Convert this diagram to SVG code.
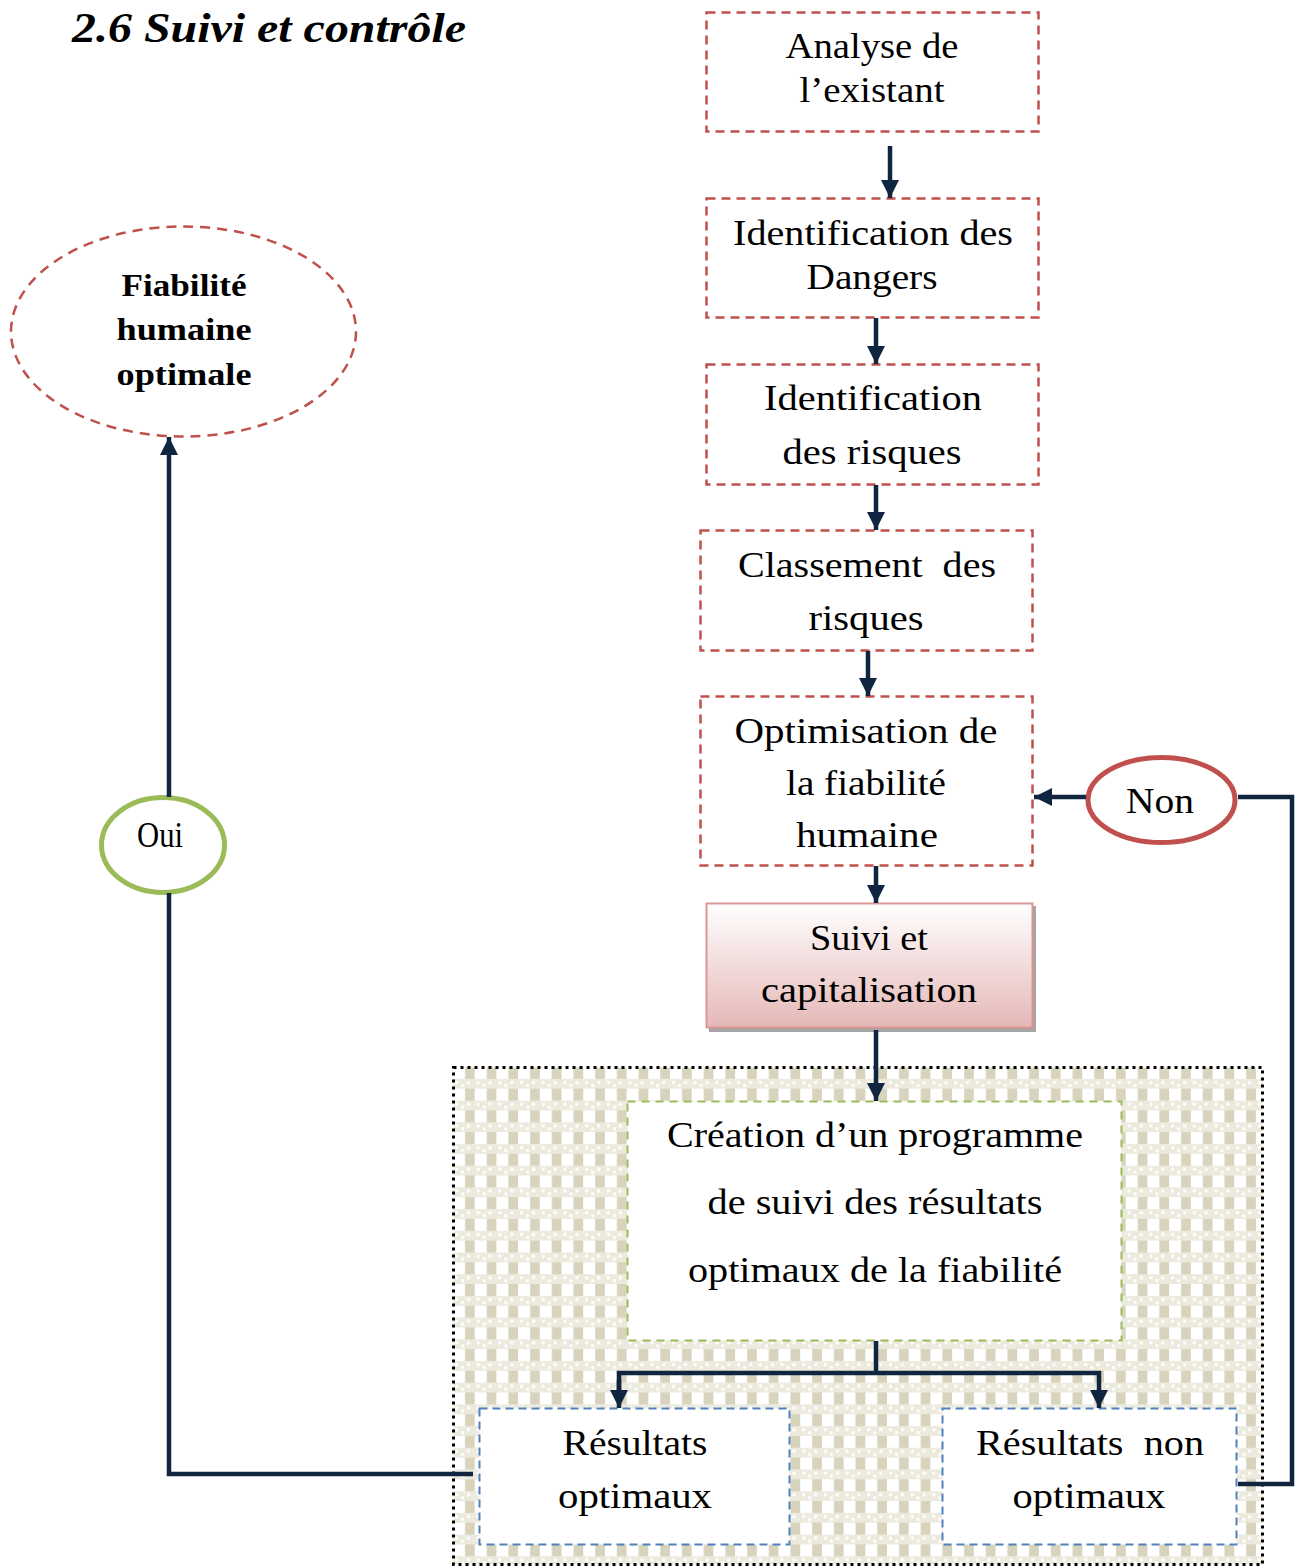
<svg xmlns="http://www.w3.org/2000/svg" width="1295" height="1567" viewBox="0 0 1295 1567">
<style>
  .box { fill: #ffffff; stroke: #C0504D; stroke-width: 2.5; stroke-dasharray: 9 6; }
  .t { font-family: "Liberation Serif", "Times New Roman", serif; font-size: 36px; fill: #000; text-anchor: middle; white-space: pre; }
  .tb { font-family: "Liberation Serif", "Times New Roman", serif; font-size: 31px; font-weight: bold; fill: #000; text-anchor: middle; }
  .conn { fill: none; stroke: #10253F; stroke-width: 4.5; }
</style>
<defs>
  <marker id="ah" viewBox="0 0 18 18" refX="18" refY="9" markerWidth="18" markerHeight="18" markerUnits="userSpaceOnUse" orient="auto">
    <path d="M0,0 L18,9 L0,18 Z" fill="#10253F"/>
  </marker>
  <pattern id="weave" patternUnits="userSpaceOnUse" x="453" y="1067" width="21.7" height="21.7">
    <rect width="21.7" height="21.7" fill="#ffffff"/>
    <rect x="12" y="0" width="10" height="12" fill="#D8D3BC"/>
    <rect x="0" y="12" width="21.7" height="9.7" fill="#ECE9DD"/>
    <rect x="2" y="14" width="3" height="3" fill="#ffffff"/>
    <rect x="8" y="17" width="3" height="3" fill="#ffffff"/>
    <rect x="14" y="14" width="3" height="3" fill="#ffffff"/>
  </pattern>
  <linearGradient id="pink" x1="0" y1="0" x2="0" y2="1">
    <stop offset="0" stop-color="#ffffff"/>
    <stop offset="1" stop-color="#E5B8B7"/>
  </linearGradient>
</defs>

<rect width="1295" height="1567" fill="#ffffff"/>

<text x="72" y="42" font-family="Liberation Serif, Times New Roman, serif" font-size="42" font-weight="bold" font-style="italic" textLength="394" lengthAdjust="spacingAndGlyphs">2.6 Suivi et contrôle</text>

<g id="container">
  <rect x="453.5" y="1067.5" width="809" height="497" fill="url(#weave)" stroke="#000" stroke-width="3" stroke-dasharray="3 4"/>
</g>

<g id="n-analyse">
  <rect class="box" x="706.5" y="12.5" width="332" height="119"/>
  <text class="t" x="872" y="58" textLength="173" lengthAdjust="spacingAndGlyphs">Analyse de</text>
  <text class="t" x="872" y="102" textLength="145" lengthAdjust="spacingAndGlyphs">l’existant</text>
</g>
<g id="n-dangers">
  <rect class="box" x="706.5" y="198.5" width="332" height="119"/>
  <text class="t" x="873" y="245" textLength="280" lengthAdjust="spacingAndGlyphs">Identification des</text>
  <text class="t" x="872" y="289" textLength="131" lengthAdjust="spacingAndGlyphs">Dangers</text>
</g>
<g id="n-risques">
  <rect class="box" x="706.5" y="364.5" width="332" height="120"/>
  <text class="t" x="873" y="410" textLength="218" lengthAdjust="spacingAndGlyphs">Identification</text>
  <text class="t" x="872" y="464" textLength="179" lengthAdjust="spacingAndGlyphs">des risques</text>
</g>
<g id="n-classement">
  <rect class="box" x="700.5" y="530.5" width="332" height="120"/>
  <text class="t" x="867" y="577" textLength="258" lengthAdjust="spacingAndGlyphs">Classement  des</text>
  <text class="t" x="866" y="630" textLength="115" lengthAdjust="spacingAndGlyphs">risques</text>
</g>
<g id="n-optimisation">
  <rect class="box" x="700.5" y="696.5" width="332" height="169"/>
  <text class="t" x="866" y="743" textLength="263" lengthAdjust="spacingAndGlyphs">Optimisation de</text>
  <text class="t" x="866" y="795" textLength="160" lengthAdjust="spacingAndGlyphs">la fiabilité</text>
  <text class="t" x="867" y="847" textLength="142" lengthAdjust="spacingAndGlyphs">humaine</text>
</g>
<g id="n-suivi">
  <rect x="709" y="906" width="327" height="126" fill="#7F7F7F" opacity="0.7"/>
  <rect x="706.5" y="903.5" width="326" height="124" fill="url(#pink)" stroke="#D99694" stroke-width="2"/>
  <text class="t" x="869" y="950" textLength="118" lengthAdjust="spacingAndGlyphs">Suivi et</text>
  <text class="t" x="869" y="1002" textLength="216" lengthAdjust="spacingAndGlyphs">capitalisation</text>
</g>
<g id="n-creation">
  <rect x="627.5" y="1101.5" width="494" height="239" fill="#ffffff" stroke="#9BBB59" stroke-width="2" stroke-dasharray="8 6"/>
  <text class="t" x="875" y="1147" textLength="416" lengthAdjust="spacingAndGlyphs">Création d’un programme</text>
  <text class="t" x="875" y="1214" textLength="335" lengthAdjust="spacingAndGlyphs">de suivi des résultats</text>
  <text class="t" x="875" y="1282" textLength="374" lengthAdjust="spacingAndGlyphs">optimaux de la fiabilité</text>
</g>
<g id="n-optimaux">
  <rect x="479.5" y="1408.5" width="310" height="136" fill="#ffffff" stroke="#4F81BD" stroke-width="2" stroke-dasharray="8 5"/>
  <text class="t" x="635" y="1455" textLength="145" lengthAdjust="spacingAndGlyphs">Résultats</text>
  <text class="t" x="635" y="1508" textLength="154" lengthAdjust="spacingAndGlyphs">optimaux</text>
</g>
<g id="n-nonoptimaux">
  <rect x="942.5" y="1408.5" width="294" height="136" fill="#ffffff" stroke="#4F81BD" stroke-width="2" stroke-dasharray="8 5"/>
  <text class="t" x="1090" y="1455" textLength="228" lengthAdjust="spacingAndGlyphs">Résultats  non</text>
  <text class="t" x="1089" y="1508" textLength="153" lengthAdjust="spacingAndGlyphs">optimaux</text>
</g>
<g id="n-fiabilite">
  <ellipse cx="183.5" cy="331.5" rx="172.5" ry="105" fill="#ffffff" stroke="#C0504D" stroke-width="2.5" stroke-dasharray="10 7"/>
  <text class="tb" x="184" y="296" textLength="125" lengthAdjust="spacingAndGlyphs">Fiabilité</text>
  <text class="tb" x="184" y="340" textLength="135" lengthAdjust="spacingAndGlyphs">humaine</text>
  <text class="tb" x="184" y="385" textLength="135" lengthAdjust="spacingAndGlyphs">optimale</text>
</g>
<g id="n-non">
  <ellipse cx="1161.5" cy="800" rx="73.5" ry="42.5" fill="#ffffff" stroke="#C0504D" stroke-width="5"/>
  <text class="t" x="1160" y="813" textLength="68" lengthAdjust="spacingAndGlyphs">Non</text>
</g>
<g id="n-oui">
  <ellipse cx="163" cy="845" rx="61.5" ry="47.5" fill="#ffffff" stroke="#9BBB59" stroke-width="5"/>
  <text class="t" x="160" y="847" font-size="29" textLength="46" lengthAdjust="spacingAndGlyphs">Oui</text>
</g>

<g id="connectors">
  <line class="conn" x1="890" y1="146" x2="890" y2="198" marker-end="url(#ah)"/>
  <line class="conn" x1="876" y1="318" x2="876" y2="364" marker-end="url(#ah)"/>
  <line class="conn" x1="876" y1="485" x2="876" y2="530" marker-end="url(#ah)"/>
  <line class="conn" x1="868" y1="651" x2="868" y2="696" marker-end="url(#ah)"/>
  <line class="conn" x1="876" y1="866" x2="876" y2="903" marker-end="url(#ah)"/>
  <line class="conn" x1="876" y1="1030" x2="876" y2="1101" marker-end="url(#ah)"/>
  <polyline class="conn" points="876,1341 876,1373"/>
  <polyline class="conn" points="619,1390 619,1373 1099,1373 1099,1408" marker-end="url(#ah)"/>
  <line class="conn" x1="619" y1="1380" x2="619" y2="1408" marker-end="url(#ah)"/>
  <polyline class="conn" points="473,1474 169,1474 169,893"/>
  <line class="conn" x1="169" y1="797" x2="169" y2="437" marker-end="url(#ah)"/>
  <polyline class="conn" points="1238,1484 1292,1484 1292,797 1238,797"/>
  <line class="conn" x1="1086" y1="797" x2="1034" y2="797" marker-end="url(#ah)"/>
</g>
</svg>
